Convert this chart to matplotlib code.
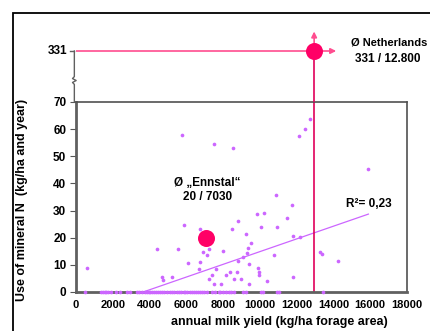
import matplotlib.pyplot as plt
from matplotlib.patches import Rectangle

plt.rcParams['font.family'] = ['Liberation Sans', 'DejaVu Sans']
plt.rcParams['font.weight'] = 'bold'

# farms with mineral N use > 0 (milk yield kg/ha, N kg/ha)
farm_x = [580, 4406, 5530, 5894, 6745, 8795, 8505, 4697, 4752, 5222, 6111, 6711,
          6765, 6927, 7236, 7145, 8014, 7599, 7399, 7253, 7525, 7870, 8177, 8359,
          8595, 8740, 8995, 8795, 9065, 10897, 11750, 9866, 10247, 11495, 10047,
          10934, 9266, 11786, 12203, 9503, 9375, 9285, 10787, 13258, 13383, 14237,
          9394, 9920, 9975, 9957, 11786, 10374, 9394, 5766, 7525, 8540, 12730,
          12475, 12131, 15885]
farm_y = [8.8, 15.7, 16.0, 24.7, 23.1, 26.2, 23.2, 5.4, 4.4, 5.4, 10.8, 8.6,
          11.2, 14.7, 15.7, 13.5, 15.1, 8.4, 6.4, 4.7, 3.1, 3.1, 6.1, 7.2,
          4.9, 7.2, 4.7, 11.4, 13.0, 35.7, 31.9, 28.9, 29.1, 27.4, 23.9,
          24.1, 21.4, 20.5, 20.1, 18.1, 16.2, 14.4, 13.5, 14.6, 13.9, 11.3,
          10.4, 9.0, 7.2, 6.4, 5.4, 4.0, 3.1, 57.7, 54.6, 53.2, 63.6,
          59.9, 57.6, 45.3]

# farms without mineral N
zero_x = [490, 1380, 1480, 1560, 1650, 1760, 1880, 2200, 2400, 2750, 2950, 3300,
          3450, 3600, 3750, 3850, 3950, 4050, 4150, 4250, 4350, 4450, 4550, 4650,
          4800, 4950, 5100, 5200, 5350, 5500, 5600, 5700, 5850, 5950, 6050, 6200,
          6300, 6400, 6550, 6650, 6750, 6850, 6950, 7100, 7400, 7550, 7750, 7850,
          8000, 8150, 8300, 8450, 8600, 9100, 9250, 10050, 10150, 10950, 11050, 13450]

trend_x = [3650, 15900]
trend_y = [0, 28.7]

ennstal = (7080, 20)
netherlands = (12950, 331)

pink = '#ff0066'
violet = '#cc66ff'

fig = plt.figure(figsize=(4.3, 3.31), dpi=100)

# frame around everything
fig.patches.append(Rectangle((13/430, -0.1), 1.2, 0.1 + 1 - 13/331, transform=fig.transFigure,
                             fill=False, edgecolor='black', lw=1.3))

ax = fig.add_axes([76/430, 39/331, 331/430, 190/331])
ax.scatter(farm_x, farm_y, s=7, color=violet, linewidths=0, zorder=3)
ax.scatter(zero_x, [0] * len(zero_x), s=7, color=violet, linewidths=0,
           zorder=4, clip_on=False)
ax.plot(trend_x, trend_y, color=violet, lw=0.9, zorder=2)
ax.axvline(netherlands[0], color='#e0005a', lw=1.2, zorder=2)
ax.scatter([ennstal[0]], [ennstal[1]], s=150, color=pink, linewidths=0, zorder=5)

ax.set_xlim(0, 18000)
ax.set_ylim(0, 70)
ax.set_xticks(range(0, 18001, 2000))
ax.set_yticks(range(0, 71, 10))
ax.tick_params(axis='x', length=0, pad=6, labelsize=8)
ax.tick_params(axis='y', length=4, width=0.8, color='#555555', pad=3, labelsize=8.5)
for s in ['left', 'bottom']:
    ax.spines[s].set_color('#606060')
    ax.spines[s].set_linewidth(2)
for s in ['top', 'right']:
    ax.spines[s].set_color('#505050')
    ax.spines[s].set_linewidth(1.2)

ax.text(7150, 37.5, 'Ø „Ennstal“\n20 / 7030', ha='center', va='center', fontsize=8.5,
        fontweight='bold', linespacing=1.2)
ax.text(15900, 32.5, 'R²= 0,23', ha='center', va='center', fontsize=8.5, fontweight='bold')

# upper part with broken axis up to the Dutch value
top = fig.add_axes([76/430, 229/331, 331/430, 89/331])
top.set_xlim(0, 18000)
top.set_ylim(70, 70 + (331 - 70) * 89 / 51)
top.axis('off')
top.plot([-90, -90, -190, 10, -190, -90, -90], [70, 160, 170, 180, 190, 200, 331],
         color='#606060', lw=1, clip_on=False)
top.plot([-300, -90], [331, 331], color='#606060', lw=1, clip_on=False)
top.text(-450, 331, '331', ha='right', va='center', fontsize=8.5, fontweight='bold')
top.plot([-90, netherlands[0]], [331, 331], color='#ff4d8f', lw=1.2)
top.plot([netherlands[0], netherlands[0]], [70, 331], color='#e0005a', lw=1.2)
top.annotate('', xy=(14300, 331), xytext=netherlands,
             arrowprops=dict(arrowstyle='-|>', color='#ff4d8f', lw=1.2, mutation_scale=8))
top.annotate('', xy=(netherlands[0], 445), xytext=netherlands,
             arrowprops=dict(arrowstyle='-|>', color='#ff4d8f', lw=1.2, mutation_scale=8))
top.scatter([netherlands[0]], [netherlands[1]], s=150, color=pink, linewidths=0, zorder=5,
            clip_on=False)
top.text(14950, 372, 'Ø Netherlands', ha='left', va='center', fontsize=8,
         fontweight='bold', clip_on=False)
top.text(16950, 290, '331 / 12.800', ha='center', va='center', fontsize=8.5,
         fontweight='bold', clip_on=False)

fig.text(279/430, 1 - 322/331, 'annual milk yield (kg/ha forage area)', ha='center',
         va='center', fontsize=9, fontweight='bold')
fig.text(22/430, 1 - 200/331, 'Use of mineral N  (kg/ha and year)', ha='center',
         va='center', rotation=90, fontsize=9, fontweight='bold')

fig.savefig('out.png', dpi=100)
